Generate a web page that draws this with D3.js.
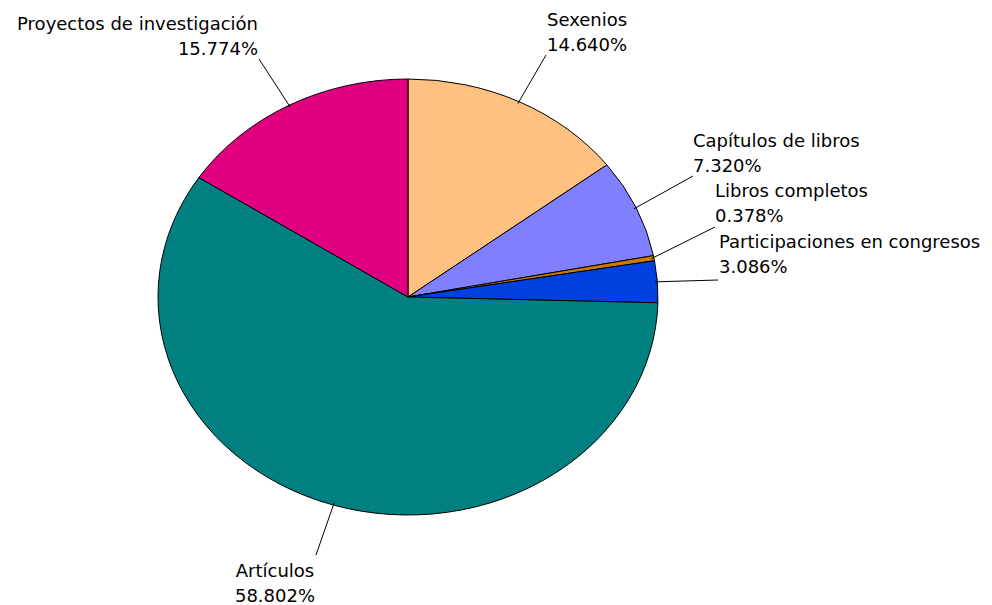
<!DOCTYPE html>
<html><head><meta charset="utf-8">
<script src="https://cdn.jsdelivr.net/npm/d3@7"></script>
<style>body{margin:0;background:#fff}svg{display:block}</style>
</head><body>
<svg id="c" width="992" height="605"></svg>
<script>
const categories = ["Sexenios","Capítulos de libros","Libros completos","Participaciones en congresos","Artículos","Proyectos de investigación"];
const values = [14.640, 7.320, 0.378, 3.086, 58.802, 15.774];
const colors = ["#FFC080","#8080FF","#CC7A00","#0040E0","#008080","#E0007F"];

// label layout: text anchor point (x, first baseline), alignment, leader end
const labelLayout = [
  {x:547, y:26, anchor:"start", lx:546, ly:55},
  {x:693, y:147, anchor:"start", lx:693, ly:176},
  {x:715, y:197, anchor:"start", lx:715, ly:227},
  {x:719, y:248, anchor:"start", lx:718, ly:280},
  {x:275, y:577, anchor:"middle", lx:316, ly:555},
  {x:258, y:30, anchor:"end", lx:259, ly:59}
];

const cx = 408, cy = 297, rx = 250, ry = 218;
const svg = d3.select("#c");
const pie = d3.pie().value(d => d).sort(null);
const arcs = pie(values);
const arc = d3.arc().innerRadius(0).outerRadius(rx);

const g = svg.append("g").attr("transform", `translate(${cx},${cy}) scale(1,${ry/rx})`);
g.selectAll("path").data(arcs).join("path")
  .attr("d", arc)
  .attr("fill", (d,i) => colors[i])
  .attr("stroke", "#000")
  .attr("stroke-width", 1)
  .attr("vector-effect", "non-scaling-stroke");

const fmt = d3.format(".3f");
arcs.forEach((a, i) => {
  const L = labelLayout[i];
  const mid = (a.startAngle + a.endAngle) / 2;
  const px = cx + rx * 0.99 * Math.sin(mid);
  const py = cy - ry * 0.99 * Math.cos(mid);
  svg.append("line").attr("x1", px).attr("y1", py).attr("x2", L.lx).attr("y2", L.ly)
    .attr("stroke", "#000").attr("stroke-width", 1);
  const t = svg.append("text")
    .attr("font-family", "DejaVu Sans, Verdana, sans-serif")
    .attr("font-size", 18).attr("fill", "#000")
    .attr("text-anchor", L.anchor);
  t.append("tspan").attr("x", L.x).attr("y", L.y).text(categories[i]);
  t.append("tspan").attr("x", L.x).attr("y", L.y + 24.5).text(fmt(values[i]) + "%");
});
</script>
</body></html>
